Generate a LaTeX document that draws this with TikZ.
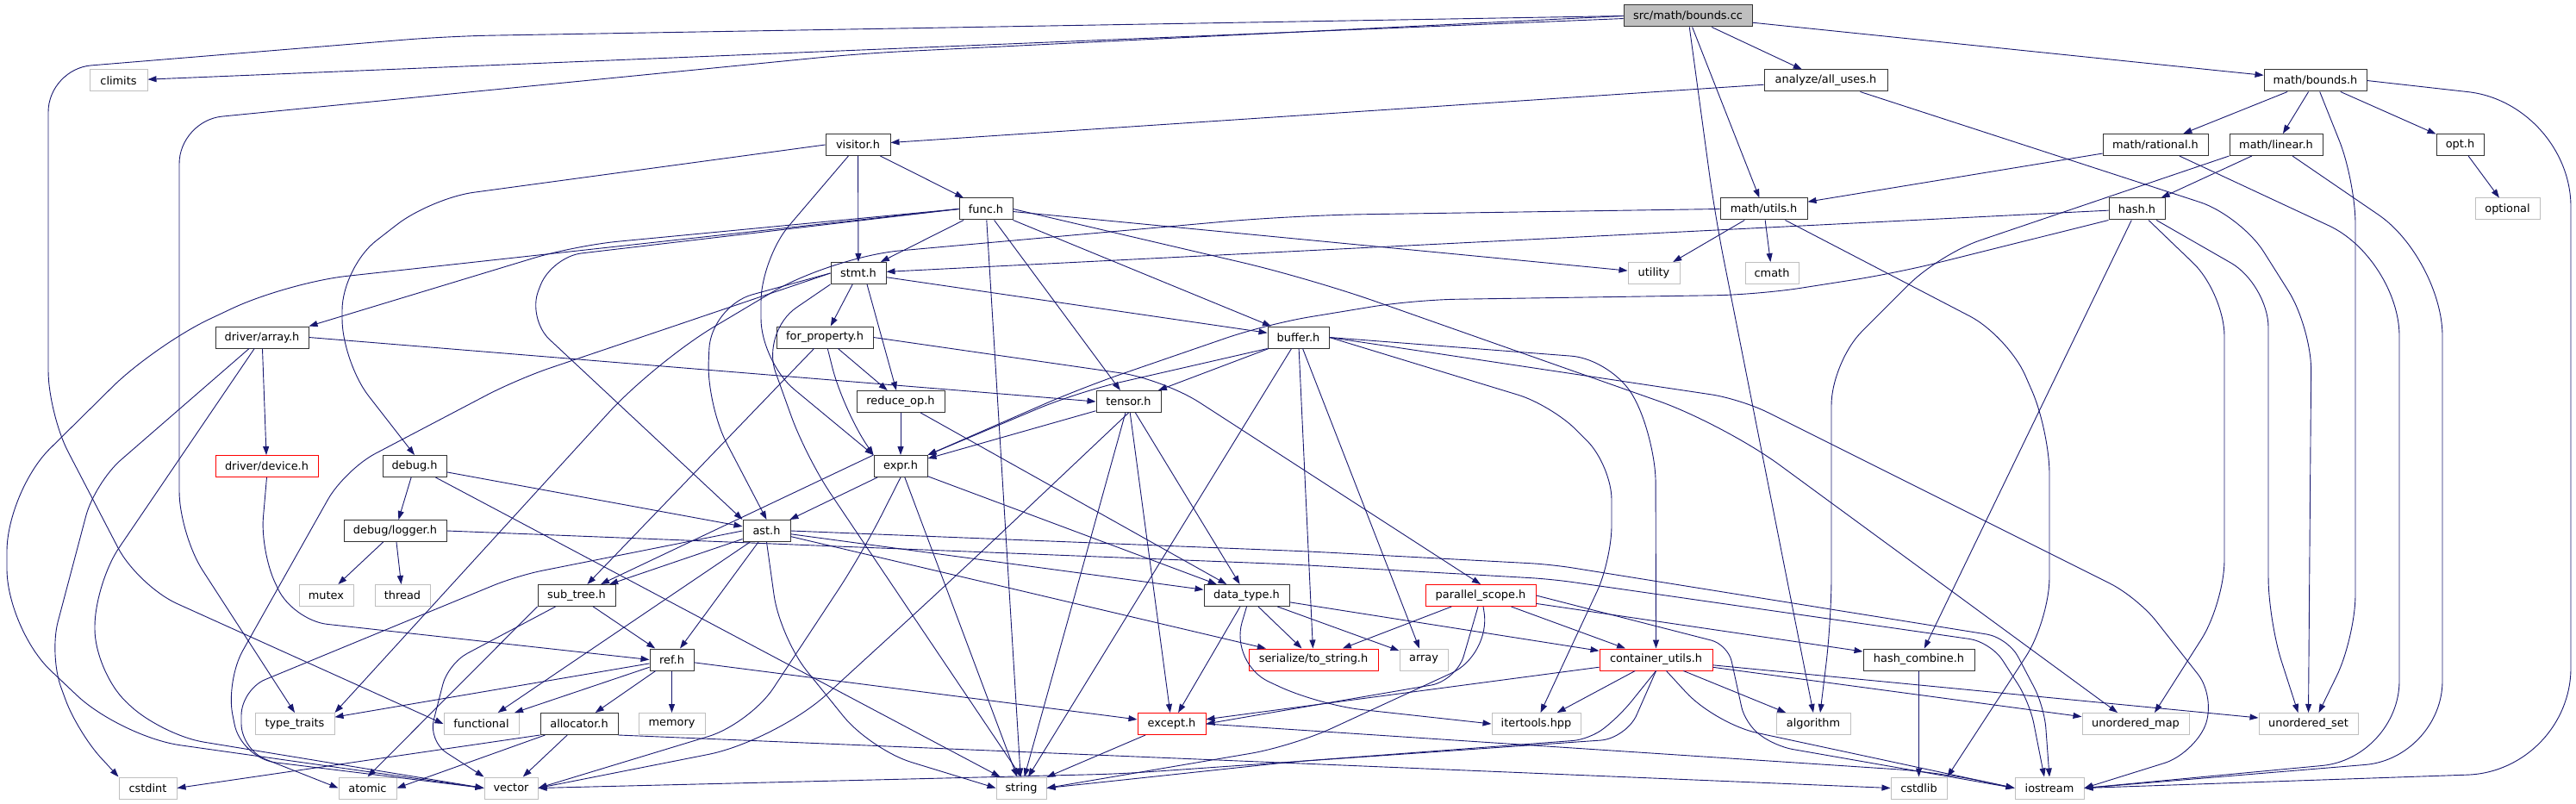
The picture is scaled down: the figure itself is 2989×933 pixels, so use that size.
\documentclass[tikz,border=0pt]{standalone}
\usepackage{fontspec}
\setmainfont{DejaVu Sans}
\usetikzlibrary{arrows.meta}
\definecolor{edgeblue}{HTML}{191970}
\definecolor{sysgray}{HTML}{BFBFBF}
\definecolor{srcgray}{HTML}{BFBFBF}

\begin{document}
\begin{tikzpicture}[x=1pt, y=-1pt,
    filebox/.style = {draw, line width=1pt, minimum height=25pt, inner sep=0pt,
                      font=\fontsize{12.9}{15}\selectfont},
    hdr/.style     = {filebox, draw=black!80, fill=white},
    sys/.style     = {filebox, draw=sysgray, fill=white},
    trunc/.style   = {filebox, draw=red, fill=white},
    src/.style     = {filebox, draw=black!80, fill=srcgray},
    inc/.style     = {draw=edgeblue, line width=0.9pt, rounded corners=50pt,
                      -{Triangle[length=10pt, width=7pt]}},
  ]
    \useasboundingbox (0,0) rectangle (2989,933);

    \node[src,   minimum width=149pt] (bounds)     at (1958.5,18.5)  {src/math/bounds.cc};
    \node[sys,   minimum width=67pt]  (climits)    at (137.5,93.5)   {climits};
    \node[hdr,   minimum width=143pt] (alluses)    at (2118.5,93.5)  {analyze/all\_uses.h};
    \node[hdr,   minimum width=119pt] (mbounds)    at (2686.5,93.5)  {math/bounds.h};
    \node[hdr,   minimum width=75pt]  (visitor)    at (995.5,168)    {visitor.h};
    \node[hdr,   minimum width=122pt] (rational)   at (2501,168)     {math/rational.h};
    \node[hdr,   minimum width=108pt] (linear)     at (2641,168)     {math/linear.h};
    \node[hdr,   minimum width=55pt]  (opt)        at (2854.5,168)   {opt.h};
    \node[hdr,   minimum width=62pt]  (func)       at (1144,242.5)   {func.h};
    \node[hdr,   minimum width=101pt] (mutils)     at (2046.5,242.5) {math/utils.h};
    \node[hdr,   minimum width=65pt]  (hash)       at (2479.5,242.5) {hash.h};
    \node[sys,   minimum width=75pt]  (optional)   at (2909.5,242.5) {optional};
    \node[hdr,   minimum width=64pt]  (stmt)       at (996,317)      {stmt.h};
    \node[sys,   minimum width=60pt]  (utility)    at (1919,317)     {utility};
    \node[sys,   minimum width=62pt]  (cmath)      at (2056,317)     {cmath};
    \node[hdr,   minimum width=108pt] (drvarray)   at (304,391.5)    {driver/array.h};
    \node[hdr,   minimum width=112pt] (forprop)    at (957,391.5)    {for\_property.h};
    \node[hdr,   minimum width=71pt]  (buffer)     at (1506.5,391.5) {buffer.h};
    \node[hdr,   minimum width=102pt] (reduceop)   at (1045,466)     {reduce\_op.h};
    \node[hdr,   minimum width=75pt]  (tensor)     at (1309.5,466)   {tensor.h};
    \node[trunc, minimum width=119pt] (drvdevice)  at (309.5,541)    {driver/device.h};
    \node[hdr,   minimum width=74pt]  (debug)      at (481,541)      {debug.h};
    \node[hdr,   minimum width=62pt]  (expr)       at (1045,541)     {expr.h};
    \node[hdr,   minimum width=119pt] (logger)     at (458.5,616)    {debug/logger.h};
    \node[hdr,   minimum width=55pt]  (ast)        at (889.5,616)    {ast.h};
    \node[sys,   minimum width=63pt]  (mutex)      at (378.5,691)    {mutex};
    \node[sys,   minimum width=64pt]  (thread)     at (467,691)      {thread};
    \node[hdr,   minimum width=90pt]  (subtree)    at (669,691)      {sub\_tree.h};
    \node[hdr,   minimum width=99pt]  (datatype)   at (1446.5,691)   {data\_type.h};
    \node[trunc, minimum width=128pt] (parscope)   at (1718,691)     {parallel\_scope.h};
    \node[hdr,   minimum width=51pt]  (ref)        at (779.5,765.5)  {ref.h};
    \node[trunc, minimum width=150pt] (tostring)   at (1524,765.5)   {serialize/to\_string.h};
    \node[sys,   minimum width=56pt]  (array)      at (1652,765.5)   {array};
    \node[trunc, minimum width=131pt] (contutils)  at (1921.5,765.5) {container\_utils.h};
    \node[hdr,   minimum width=129pt] (hashcomb)   at (2226.5,765.5) {hash\_combine.h};
    \node[sys,   minimum width=92pt]  (typetraits) at (342,840)      {type\_traits};
    \node[sys,   minimum width=87pt]  (functional) at (558.5,840)    {functional};
    \node[hdr,   minimum width=90pt]  (allocator)  at (672,840)      {allocator.h};
    \node[sys,   minimum width=77pt]  (memory)     at (779.5,840)    {memory};
    \node[trunc, minimum width=79pt]  (except)     at (1359.5,840)   {except.h};
    \node[sys,   minimum width=103pt] (itertools)  at (1782.5,840)   {itertools.hpp};
    \node[sys,   minimum width=86pt]  (algorithm)  at (2104,840)     {algorithm};
    \node[sys,   minimum width=124pt] (umap)       at (2478,840)     {unordered\_map};
    \node[sys,   minimum width=115pt] (uset)       at (2678.5,840)   {unordered\_set};
    \node[sys,   minimum width=67pt]  (cstdint)    at (171.5,914.5)  {cstdint};
    \node[sys,   minimum width=67pt]  (atomic)     at (426.5,914.5)  {atomic};
    \node[sys,   minimum width=62pt]  (vector)     at (593,914.5)    {vector};
    \node[sys,   minimum width=58pt]  (string)     at (1185,914.5)   {string};
    \node[sys,   minimum width=65pt]  (cstdlib)    at (2226.5,914.5) {cstdlib};
    \node[sys,   minimum width=80pt]  (iostream)   at (2378,914.5)   {iostream};

    \draw[inc] (bounds) -- (climits);
    \draw[inc] (bounds.west) -- (520,42) -- (56,80) -- (56,480) -- (160,680) -- (functional.west);
    \draw[inc] (bounds.west) -- (1000,62) -- (208,140) -- (208,620) -- (typetraits.north);
    \draw[inc] (bounds) -- (alluses);
    \draw[inc] (bounds) -- (mutils);
    \draw[inc] (bounds) -- (1990,250) -- (algorithm.north);
    \draw[inc] (bounds) -- (mbounds);

    \draw[inc] (alluses) -- (visitor);
    \draw[inc] (alluses) -- (2600,250) -- (2682,380) -- (uset.north);

    \draw[inc] (mbounds) -- (rational);
    \draw[inc] (mbounds) -- (linear);
    \draw[inc] (mbounds) -- (opt);
    \draw[inc] (mbounds) -- (2733,210) -- (2733,740) -- ([xshift=12pt]uset.north);
    \draw[inc, rounded corners=120pt] (mbounds.east) -- (2983,120) -- (2983,895) -- (iostream.east);
    \draw[inc] (opt) -- (optional);
    \draw[inc] (rational) -- (mutils);
    \draw[inc, rounded corners=90pt] (rational) -- (2784,300) -- (2784,880) -- (iostream.east);
    \draw[inc] (linear) -- (hash);
    \draw[inc] (linear.south west) -- (2250,295) -- (2125,420) -- (2125,720) -- ([xshift=8pt]algorithm.north);
    \draw[inc, rounded corners=90pt] (linear) -- (2834,300) -- (2834,880) -- (iostream.east);

    \draw[inc] (hash) -- (stmt);
    \draw[inc] (hash.south west) -- (2200,317) -- (2040,342) -- (1640,348) -- (1470,376) -- (1255,450) -- (expr.north east);
    \draw[inc] (hash) -- (hashcomb);
    \draw[inc] (hash) -- (2581,340) -- (2581,700) -- ([xshift=22pt]umap.north);
    \draw[inc] (hash) -- (2632,330) -- (2632,720) -- ([xshift=-12pt]uset.north);

    \draw[inc] (mutils) -- (utility);
    \draw[inc] (mutils) -- (cmath);
    \draw[inc] (mutils) -- (2330,390) -- (2378,500) -- (2378,720) -- (cstdlib.north east);
    \draw[inc, rounded corners=80pt] (mutils.west) -- (1500,250) -- (965,298) -- (760,420) -- (typetraits.north east);

    \draw[inc] (visitor) -- (func);
    \draw[inc] (visitor) -- (stmt);
    \draw[inc] (visitor.west) -- (500,230) -- (397,310) -- (397,420) -- (debug.north);
    \draw[inc] (visitor) -- (883,300) -- (883,420) -- (expr.north west);

    \draw[inc] (func) -- (stmt);
    \draw[inc] (func) -- (string);
    \draw[inc] (func) -- (tensor);
    \draw[inc] (func) -- (buffer);
    \draw[inc] (func) -- (utility);
    \draw[inc, rounded corners=35pt] (func.west) -- (640,298) -- (612,370) -- (ast.north west);
    \draw[inc, rounded corners=70pt] (func.west) -- (333,328) -- (180,400) -- (8,570) -- (8,730) -- (140,855) -- (vector.west);
    \draw[inc] (func.west) -- (667,285) -- (drvarray.north east);
    \draw[inc, rounded corners=80pt] (func.east) -- (1520,323) -- (2000,492) -- ([xshift=-21pt]umap.north);

    \draw[inc] (stmt) -- (forprop);
    \draw[inc] ([xshift=10pt]stmt.south) -- ([xshift=-5pt]reduceop.north);
    \draw[inc] (stmt) -- (buffer);
    \draw[inc] (stmt.west) -- (825,355) -- (820,470) -- (ast.north);
    \draw[inc, rounded corners=40pt] (stmt.west) -- (600,440) -- (400,545) -- (262,790) -- (280,880) -- (vector.west);
    \draw[inc] (stmt.south west) -- (883,385) -- (935,530) -- (string.north);

    \draw[inc] (forprop) -- (reduceop);
    \draw[inc] (forprop) -- (978,475) -- (expr.north west);
    \draw[inc] (forprop) -- (subtree);
    \draw[inc] (forprop.east) -- (1350,440) -- (parscope.north);

    \draw[inc] (buffer) -- (tensor);
    \draw[inc] (buffer.south west) -- (1250,455) -- (expr.north east);
    \draw[inc] (buffer) -- (string);
    \draw[inc] (buffer) -- (tostring);
    \draw[inc] (buffer) -- (array);
    \draw[inc] (buffer.east) -- (1873,417) -- (1921,510) -- (contutils.north);
    \draw[inc, rounded corners=40pt] (buffer.east) -- (1800,470) -- (1870,540) -- (1870,650) -- ([xshift=5pt]itertools.north);
    \draw[inc, rounded corners=35pt] (buffer.east) -- (2020,463) -- (2480,693) -- (2572,810) -- (2545,875) -- (iostream.east);

    \draw[inc] (drvarray.east) -- (tensor.west);
    \draw[inc] (drvarray) -- (drvdevice);
    \draw[inc, rounded corners=40pt] (drvarray) -- (110,560) -- (57,760) -- (90,850) -- (cstdint.north west);
    \draw[inc] (drvarray) -- (110,677) -- (110,780) -- (187,853) -- (vector.west);
    \draw[inc, rounded corners=40pt] (drvdevice.south) -- (302,640) -- (340,720) -- (ref.west);

    \draw[inc] (reduceop) -- (expr);
    \draw[inc] (reduceop) -- (datatype);
    \draw[inc] (tensor) -- (expr);
    \draw[inc] (tensor) -- (datatype);
    \draw[inc] (tensor) -- (except);
    \draw[inc] (tensor) -- (string);
    \draw[inc, rounded corners=80pt] (tensor.south) -- (1100,677) -- (900,860) -- (vector.east);

    \draw[inc] (debug) -- (logger);
    \draw[inc] (debug) -- (ast);
    \draw[inc] (debug) -- (string);
    \draw[inc] (logger) -- (mutex);
    \draw[inc] (logger) -- (thread);
    \draw[inc, rounded corners=25pt] (logger.east) -- (1500,655) -- (1800,672) -- (2310,745) -- (2355,815) -- ([xshift=-6pt]iostream.north);

    \draw[inc] (expr) -- (ast);
    \draw[inc] (expr) -- (datatype);
    \draw[inc] (expr) -- (string);
    \draw[inc] (expr.north west) -- ([xshift=28pt]subtree.north);
    \draw[inc] (expr.south) -- (1000,643) -- (870,840) -- (vector.east);

    \draw[inc] (ast) -- (subtree);
    \draw[inc] (ast) -- (datatype);
    \draw[inc] (ast) -- (tostring);
    \draw[inc] (ast) -- (functional);
    \draw[inc] (ast) -- (ref);
    \draw[inc] (ast.south) -- (905,740) -- (1010,870) -- (string.west);
    \draw[inc, rounded corners=25pt] (ast.east) -- (1520,640) -- (1800,655) -- (2330,740) -- (2372,820) -- (iostream.north);
    \draw[inc, rounded corners=30pt] (ast.west) -- (600,668) -- (280,800) -- (280,870) -- (atomic.west);

    \draw[inc] (subtree) -- (ref);
    \draw[inc] (subtree.south west) -- (atomic.north);
    \draw[inc, rounded corners=25pt] (subtree) -- (520,770) -- (497,860) -- (vector.north west);

    \draw[inc] (ref) -- (typetraits);
    \draw[inc] (ref) -- (functional);
    \draw[inc] (ref) -- (allocator);
    \draw[inc] (ref) -- (memory);
    \draw[inc] (ref) -- (except);

    \draw[inc] ([xshift=6pt]allocator.south west) -- (atomic.east);
    \draw[inc] (allocator) -- (vector);
    \draw[inc] (allocator.south west) -- (cstdint.east);
    \draw[inc] (allocator.south east) -- (cstdlib.west);

    \draw[inc] (datatype) -- (tostring);
    \draw[inc] (datatype) -- (array);
    \draw[inc] (datatype) -- (contutils);
    \draw[inc] (datatype) -- (except);
    \draw[inc] (datatype.south) -- (1427,770) -- (1530,818) -- (itertools.west);

    \draw[inc] (parscope) -- (tostring);
    \draw[inc] (parscope) -- (contutils);
    \draw[inc] (parscope) -- (hashcomb);
    \draw[inc, rounded corners=30pt] ([xshift=-3pt]parscope.south) -- (1690,790) -- (except.east);
    \draw[inc] ([xshift=3pt]parscope.south) -- (1730,760) -- (1500,866) -- (string.east);
    \draw[inc, rounded corners=20pt] (parscope.east) -- (2005,748) -- (2025,840) -- (2060,866) -- (iostream.west);

    \draw[inc] (contutils) -- (except);
    \draw[inc] (contutils) -- (itertools);
    \draw[inc] (contutils) -- (algorithm);
    \draw[inc] (contutils) -- (umap);
    \draw[inc] (contutils) -- ([yshift=7pt]uset.west);
    \draw[inc, rounded corners=20pt] (contutils.south) -- (1880,830) -- (1845,858) -- (1500,884) -- (string.east);
    \draw[inc, rounded corners=30pt] (contutils.south) -- (1887,857) -- (1300,898) -- (vector.east);
    \draw[inc] (contutils) -- (1990,840) -- (iostream.west);

    \draw[inc] (except) -- (string);
    \draw[inc] (except.east) -- (2250,896) -- (iostream.west);
    \draw[inc] (hashcomb) -- (cstdlib);
  \end{tikzpicture}
\end{document}
